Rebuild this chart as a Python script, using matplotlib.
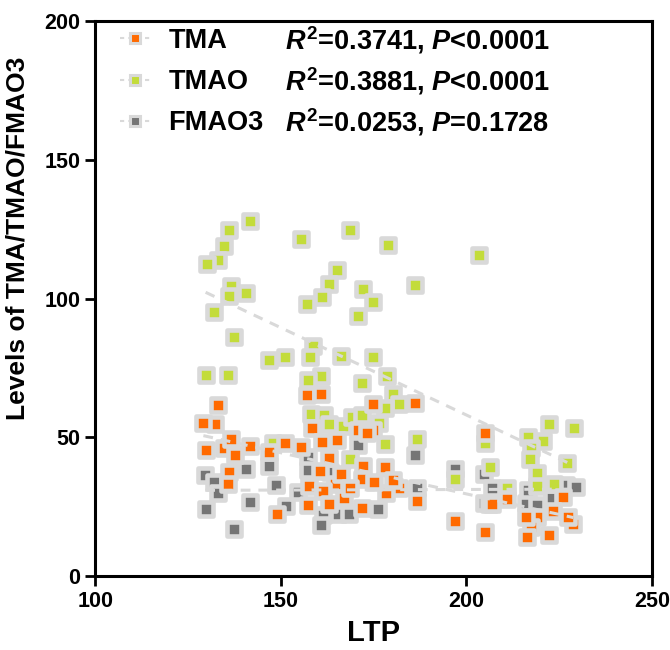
import numpy as np
import matplotlib
matplotlib.use("Agg")
import matplotlib.pyplot as plt
from matplotlib.lines import Line2D

# ---- data (LTP vs levels) ----
tmao_ltp = [141.6,135.9,134.7,133.1,130.2,136.5,135.9,140.6,132.0,137.4,
            146.7,151.1,129.7,135.7,155.5,168.5,178.8,165.0,162.9,161.1,
            157.1,172.0,174.7,170.8,186.2,203.4,158.6,157.8,166.2,174.9,
            160.7,157.3,171.9,178.7,180.2,181.8,178.1,158.0,161.5,162.9,
            166.8,169.1,176.3,178.1,168.5,186.6,196.9,206.3,222.2,229.0,
            216.7,220.5,217.3,217.1,227.0,219.1,219.1,223.6,210.8,205.1,
            147.9,171.8]
tmao_val = [128.1,124.9,119.1,114.0,112.5,104.6,101.1,102.2,95.2,86.1,
            77.9,79.0,72.6,72.6,121.6,124.9,119.5,110.2,105.4,100.6,
            98.0,103.4,98.9,93.8,104.9,115.8,82.8,79.1,79.4,79.1,
            72.3,70.7,69.5,72.2,65.6,61.9,60.7,58.3,58.2,54.7,
            54.1,57.4,55.1,47.7,42.1,49.3,34.9,39.4,54.8,53.4,
            50.2,48.8,46.3,42.1,40.9,37.0,32.5,33.2,31.6,48.1,
            48.1,58.1]

tma_ltp = [133.0,132.1,129.1,129.7,134.7,136.5,137.6,141.6,146.7,151.1,
           135.9,135.7,148.9,157.1,160.7,158.3,155.4,161.1,165.1,163.0,
           160.4,172.1,171.9,157.6,164.6,161.3,167.0,157.3,163.0,171.9,
           166.2,168.5,170.8,174.8,186.2,174.7,178.1,181.8,178.3,180.2,
           186.6,196.9,205.1,206.0,205.0,210.8,206.9,226.1,219.0,223.4,
           228.8,217.3,222.2,227.4,216.0,173.1,175.1,216.2]
tma_val = [61.8,54.7,55.3,45.3,46.1,49.4,43.5,46.8,44.6,47.8,
           37.5,33.2,22.4,65.2,65.7,53.4,46.7,48.5,49.0,42.7,
           38.0,39.8,35.1,32.3,33.1,30.8,28.1,25.5,25.9,24.5,
           36.9,31.9,52.7,61.9,62.3,52.8,39.4,31.9,29.8,34.6,
           26.9,20.0,51.7,25.9,15.9,27.7,26.0,28.6,21.2,23.3,
           18.9,17.6,14.8,21.4,21.4,51.5,33.8,14.2]

fmao3_ltp = [140.6,146.7,148.8,141.6,151.3,157.2,157.3,170.8,161.4,165.5,
             168.4,160.8,154.7,163.2,129.6,132.0,133.0,129.7,137.4,186.2,
             186.6,176.2,196.9,204.8,204.8,206.9,216.0,219.1,223.0,226.8,
             229.5,216.7]
fmao3_val = [38.7,39.8,32.7,26.8,25.2,43.0,38.3,47.2,22.0,22.5,
             22.2,18.5,30.2,37.6,36.5,34.0,30.0,24.2,17.1,43.5,
             31.6,24.2,38.6,36.8,26.2,31.8,26.2,25.7,28.2,32.8,
             32.1,31.0]

series_names = ["TMA", "TMAO", "FMAO3"]
stats_text = [r"$R^2$=0.3741, $P$<0.0001",
              r"$R^2$=0.3881, $P$<0.0001",
              r"$R^2$=0.0253, $P$=0.1728"]
x_ticks = [100, 150, 200, 250]
y_ticks = [0, 50, 100, 150, 200]

colors = {"TMA": "#ff6a00", "TMAO": "#c3dc3a", "FMAO3": "#757575"}
edge = "#d9d9d9"

plt.rcParams['font.family'] = ['Liberation Sans', 'DejaVu Sans']
plt.rcParams['font.weight'] = 'bold'
plt.rcParams['mathtext.fontset'] = 'custom'
plt.rcParams['mathtext.it'] = 'Liberation Sans:italic:bold'
plt.rcParams['mathtext.rm'] = 'Liberation Sans:bold'
plt.rcParams['mathtext.bf'] = 'Liberation Sans:bold'

fig = plt.figure(figsize=(6.7, 6.5), dpi=100)
ax = fig.add_axes([0.1424, 0.1138, 0.8307, 0.8532])

data = {"TMA": (tma_ltp, tma_val), "TMAO": (tmao_ltp, tmao_val),
        "FMAO3": (fmao3_ltp, fmao3_val)}

z = {"FMAO3": 2, "TMAO": 3, "TMA": 4}
for name in ["FMAO3", "TMAO", "TMA"]:
    x, y = data[name]
    ax.scatter(x, y, s=100, marker='s', c=colors[name], edgecolors=edge,
               linewidths=3.3, zorder=z[name])

for name in ["FMAO3", "TMAO", "TMA"]:
    x, y = np.asarray(data[name][0]), np.asarray(data[name][1])
    k, b = np.polyfit(x, y, 1)
    xs = np.array([x.min(), x.max()])
    ln, = ax.plot(xs, k * xs + b, color=edge, lw=2.2, zorder=6)
    ln.set_dashes([3.2, 2.6])

handles = []
for name in series_names:
    h = Line2D([0], [0], color=edge, lw=1.5, ls=(0, (2, 2)), marker='s',
               markersize=6.5, markerfacecolor=colors[name],
               markeredgecolor=edge, markeredgewidth=2.2)
    handles.append(h)
leg = ax.legend(handles, series_names, loc='upper left',
                bbox_to_anchor=(0.045, 0.989), frameon=False,
                prop={'weight': 'bold', 'size': 19.5},
                handlelength=1.1, handletextpad=0.67, labelspacing=0.57,
                borderpad=0, borderaxespad=0)

row_y = [0.9657, 0.8918, 0.8178]
for t, yy in zip(stats_text, row_y):
    ax.text(0.341, yy, t, transform=ax.transAxes, fontsize=19.5,
            fontweight='bold', va='center', ha='left')

ax.set_xlim(100, 250)
ax.set_ylim(0, 200)
ax.set_xticks(x_ticks)
ax.set_yticks(y_ticks)
ax.tick_params(direction='out', length=7, width=2, labelsize=15.5, pad=4)
for lab in ax.get_xticklabels() + ax.get_yticklabels():
    lab.set_fontweight('bold')
for sp in ax.spines.values():
    sp.set_linewidth(2.2)
    sp.set_color('black')

ax.set_xlabel("LTP", fontsize=21, fontweight='bold')
ax.xaxis.set_label_coords(0.5, -0.077)
ax.set_ylabel("Levels of TMA/TMAO/FMAO3", fontsize=19, fontweight='bold')
ax.yaxis.set_label_coords(-0.118, 0.609)

fig.savefig("out.png", dpi=100)
